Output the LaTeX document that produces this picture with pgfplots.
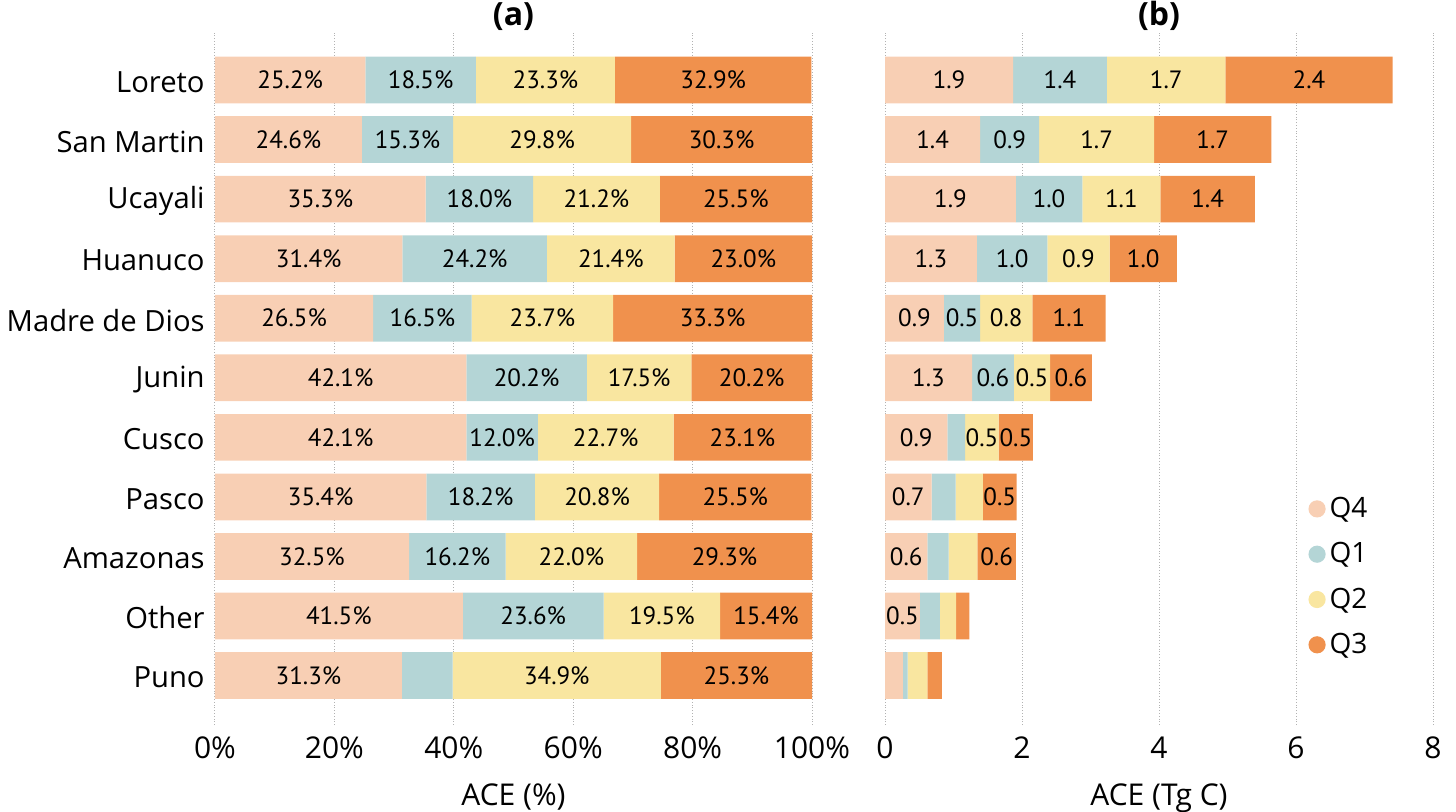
\documentclass[border=0pt]{standalone}
\usepackage{pgfplots}
\pgfplotsset{compat=1.18}
\usepackage{pgfplotstable}
\usepackage{fontspec}
\setmainfont{Open Sans}
\newfontfamily\valfont{PT Sans}

\definecolor{cq4}{RGB}{248,207,180}
\definecolor{cq1}{RGB}{180,213,214}
\definecolor{cq2}{RGB}{249,230,160}
\definecolor{cq3}{RGB}{240,145,77}

% share of ACE per quarter (%), rows from bottom (Puno) to top (Loreto)
\pgfplotstableread{
idx q4   q1   q2   q3
0   31.3 8.5  34.9 25.3
1   41.5 23.6 19.5 15.4
2   32.5 16.2 22.0 29.3
3   35.4 18.2 20.8 25.5
4   42.1 12.0 22.7 23.1
5   42.1 20.2 17.5 20.2
6   26.5 16.5 23.7 33.3
7   31.4 24.2 21.4 23.0
8   35.3 18.0 21.2 25.5
9   24.6 15.3 29.8 30.3
10  25.2 18.5 23.3 32.9
}\shareTable

% ACE per quarter (Tg C)
\pgfplotstableread{
idx q4   q1   q2   q3
0   0.26 0.07 0.29 0.21
1   0.51 0.29 0.24 0.19
2   0.62 0.31 0.42 0.56
3   0.68 0.35 0.40 0.49
4   0.91 0.26 0.49 0.50
5   1.27 0.61 0.53 0.61
6   0.86 0.53 0.76 1.07
7   1.34 1.03 0.91 0.98
8   1.91 0.97 1.14 1.38
9   1.39 0.86 1.68 1.71
10  1.87 1.37 1.73 2.44
}\massTable

% segment label, hidden below a threshold
\newcommand\seglabel[2]{%
  \pgfmathfloattofixed{\pgfplotspointmeta}%
  \ifdim\pgfmathresult pt<#1pt\relax\else
    \pgfmathprintnumber[fixed,fixed zerofill,precision=1]{\pgfplotspointmeta}#2\fi}

\pgfplotsset{
  panel/.style={
    scale only axis, height=346.5pt,
    xbar stacked, bar width=0.784,
    ymin=-0.83, ymax=10.806, ytick={0,...,10},
    axis line style={draw=none}, tick style={draw=none},
    xmajorgrids, grid style={densely dotted, black!30, line width=0.5pt},
    clip=false,
    /pgf/number format/assume math mode=true,
    tick label style={font=\fontsize{15}{17}\selectfont},
    xticklabel style={anchor=base, yshift=-16.5pt},
    yticklabel style={anchor=east, inner sep=0pt, xshift=-5pt, yshift=-1pt,
      font=\fontsize{14.6}{17}\selectfont},
    xlabel style={at={(axis description cs:0.5,0)}, anchor=base, yshift=-40pt,
      font=\fontsize{15}{17}\selectfont},
    title style={at={(axis description cs:0.5,1)}, anchor=base, yshift=-2.5pt,
      font=\bfseries\fontsize{16}{18}\selectfont},
    every node near coord/.append style={font=\valfont\fontsize{12.5}{13}\selectfont,
      text=black, anchor=center, inner sep=0pt},
  },
  seg/.style={fill=#1, draw=none},
}

\begin{document}
\begin{tikzpicture}
\path[use as bounding box] (-107.5pt,-43pt) rectangle (620.5pt,362.5pt);

\begin{axis}[panel, width=298.5pt,
  xmin=0, xmax=100, xtick={0,20,...,100},
  xticklabels={0\%,20\%,40\%,60\%,80\%,100\%},
  yticklabels={Puno,Other,Amazonas,Pasco,Cusco,Junin,Madre de Dios,Huanuco,Ucayali,San Martin,Loreto},
  xlabel={ACE (\%)}, title={(a)},
  nodes near coords={\seglabel{10}{\%}},
]
\addplot[seg=cq4] table[x=q4, y=idx, meta=q4] {\shareTable};
\addplot[seg=cq1] table[x=q1, y=idx, meta=q1] {\shareTable};
\addplot[seg=cq2] table[x=q2, y=idx, meta=q2] {\shareTable};
\addplot[seg=cq3] table[x=q3, y=idx, meta=q3] {\shareTable};
\end{axis}

\begin{axis}[panel, at={(335pt,0pt)}, width=274pt,
  xmin=0, xmax=8, xtick={0,2,...,8},
  yticklabels={},
  xlabel={ACE (Tg C)}, title={(b)},
  xticklabel={\pgfmathprintnumber{\tick}},
  nodes near coords={\seglabel{0.45}{}},
  legend cell align=left,
  legend image code/.code={\fill (0.3em,0) circle (4.3pt);},
  legend style={at={(axis description cs:0.772,0.335)}, anchor=north west,
    draw=none, fill=none, inner sep=0pt, row sep=7pt,
    font=\fontsize{14}{16}\selectfont},
]
\addplot[seg=cq4] table[x=q4, y=idx, meta=q4] {\massTable};
\addplot[seg=cq1] table[x=q1, y=idx, meta=q1] {\massTable};
\addplot[seg=cq2] table[x=q2, y=idx, meta=q2] {\massTable};
\addplot[seg=cq3] table[x=q3, y=idx, meta=q3] {\massTable};
\legend{Q4,Q1,Q2,Q3}
\end{axis}
\end{tikzpicture}
\end{document}
